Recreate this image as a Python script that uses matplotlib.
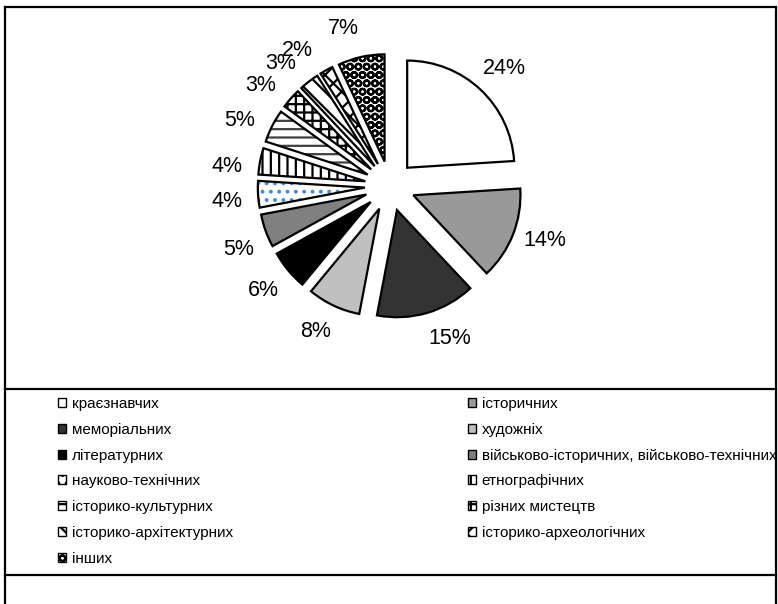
import matplotlib
matplotlib.use('Agg')
import numpy as np
import matplotlib.pyplot as plt
from matplotlib.patches import Patch
from matplotlib.lines import Line2D

plt.rcParams['font.family'] = ['Liberation Sans', 'DejaVu Sans']
plt.rcParams['hatch.linewidth'] = 1.6

categories = ['краєзнавчих', 'історичних', 'меморіальних', 'художніх',
              'літературних', 'військово-історичних, військово-технічних',
              'науково-технічних', 'етнографічних', 'історико-культурних',
              'різних мистецтв', 'історико-архітектурних',
              'історико-археологічних', 'інших']
shares = [24, 14, 15, 8, 6, 5, 4, 4, 5, 3, 3, 2, 7]

face_colors = ['white', '#999999', '#333333', '#c0c0c0', 'black', '#808080',
               'white', 'white', 'white', 'white', 'white', 'white', 'white']
hatches = [None, None, None, None, None, None,
           '..', '||', '--', '++', '\\\\', 'xx', 'OO']
hatch_colors = ['black'] * 6 + ['#3d8fe0', 'black', '#404040', 'black',
                                'black', 'black', 'black']
# small angular shifts of the % labels (Excel spreads crowded ones)
label_nudge = [-1, 2, 5, -2, 0, 3, 2, 4, 3.5, 3.5, 4, 5.5, 4]

W, H = 778, 604
fig = plt.figure(figsize=(W / 100, H / 100), dpi=100)

# pie axes: centre at (390, 186) px, 300 px square
ax = fig.add_axes([(390 - 150) / W, (H - 186 - 150) / H, 300 / W, 300 / H])
explode = [0.234] * len(shares)

wedges, _ = ax.pie(shares, colors=face_colors, explode=explode,
                   startangle=90, counterclock=False,
                   wedgeprops=dict(linewidth=0))
for w, h, hc in zip(wedges, hatches, hatch_colors):
    if h:
        w.set_hatch(h)
        w.set_edgecolor(hc)

# outlines + percentage labels
outl, _, pct = ax.pie(shares, explode=explode, startangle=90,
                      counterclock=False, autopct='%1.0f%%',
                      wedgeprops=dict(fill=False, edgecolor='black',
                                      linewidth=1.6),
                      textprops=dict(fontsize=15.5, color='black'))
for w, t, dn in zip(outl, pct, label_nudge):
    a = np.deg2rad((w.theta1 + w.theta2) / 2 + dn)
    t.set_position((1.53 * np.cos(a), 1.53 * np.sin(a)))
ax.set_xlim(-1.4, 1.4)
ax.set_ylim(-1.4, 1.4)
ax.axis('off')

# frame lines
def hline(y, x0=5, x1=776):
    fig.add_artist(Line2D([x0 / W, x1 / W], [1 - y / H, 1 - y / H],
                          color='black', lw=1.6))

def vline(x, y0=7, y1=604):
    fig.add_artist(Line2D([x / W, x / W], [1 - y0 / H, 1 - y1 / H],
                          color='black', lw=1.6))

hline(7)
hline(389)
hline(575)
vline(5)
vline(776)

handles = [Patch(facecolor=c, edgecolor='black', hatch=h, linewidth=1.0)
           for c, h in zip(face_colors, hatches)]

leg_kw = dict(loc='upper left', frameon=False, fontsize=11, borderpad=0,
              borderaxespad=0, handlelength=0.55, handleheight=0.55,
              handletextpad=0.35, labelspacing=0.77)
leg1 = fig.legend(handles[0::2], categories[0::2],
                  bbox_to_anchor=(58 / W, 1 - 397 / H), **leg_kw)
leg2 = fig.legend(handles[1::2], categories[1::2],
                  bbox_to_anchor=(468 / W, 1 - 397 / H), **leg_kw)

fig.savefig('out.png', dpi=100)
